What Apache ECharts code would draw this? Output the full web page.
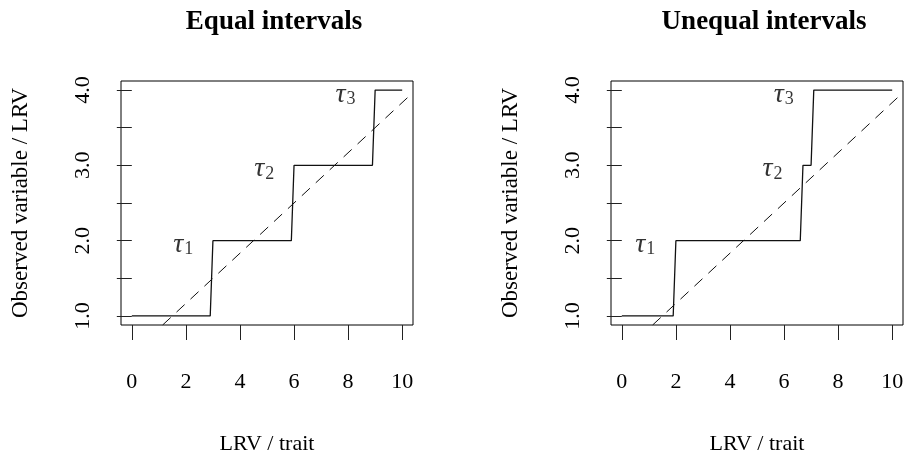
<!DOCTYPE html>
<html>
<head>
<meta charset="utf-8">
<script src="https://cdn.jsdelivr.net/npm/echarts@6/dist/echarts.min.js"></script>
<style>
  html, body { margin: 0; padding: 0; background: #fff; }
  #chart { width: 907px; height: 458px; }
</style>
</head>
<body>
<div id="chart"></div>
<script>
// Panel titles and axis names
const panelTitles = ['Equal intervals', 'Unequal intervals'];
const xName = 'LRV / trait';
const yName = 'Observed variable / LRV';

// Tick positions
const xTicks = [0, 2, 4, 6, 8, 10];
const yTicks = [1, 1.5, 2, 2.5, 3, 3.5, 4];
const yTickLabels = [1, 2, 3, 4];

// Observed variable as a step function of the latent trait
const stepEqual = [[0, 1], [2.9, 1], [3.0, 2], [5.9, 2], [6.0, 3], [8.9, 3], [9.0, 4], [10, 4]];
const stepUnequal = [[0, 1], [1.9, 1], [2.0, 2], [6.6, 2], [6.7, 3], [7.0, 3], [7.1, 4], [10, 4]];

// Reference diagonal (ends clipped at the plot edges)
const diagonal = [[1.14, 0.88], [10.4, 3.967]];

// Threshold labels: [x, y, index]
const tauEqual = [[1.9, 1.95, 1], [4.9, 2.95, 2], [7.9, 3.94, 3]];
const tauUnequal = [[0.87, 1.95, 1], [5.57, 2.95, 2], [5.99, 3.94, 3]];

const FONT = 'Liberation Serif';
const grids = [
  { left: 121, top: 81, width: 292, height: 244 },
  { left: 611, top: 81, width: 292, height: 244 }
];

function xAxis(i) {
  return {
    gridIndex: i, type: 'value', min: -0.4, max: 10.4,
    name: xName, nameLocation: 'middle', nameGap: 108,
    nameTextStyle: { fontFamily: FONT, fontSize: 22, color: '#000' },
    axisLine: { show: false },
    axisTick: { show: true, length: 15, inside: false, customValues: xTicks, lineStyle: { color: '#222', width: 1 } },
    axisLabel: { customValues: xTicks, margin: 46, fontFamily: FONT, fontSize: 22, color: '#000' },
    splitLine: { show: false }
  };
}
function yAxis(i) {
  return {
    gridIndex: i, type: 'value', min: 0.88, max: 4.12,
    name: yName, nameLocation: 'middle', nameGap: 89,
    nameTextStyle: { fontFamily: FONT, fontSize: 23, color: '#000' },
    axisLine: { show: false },
    axisTick: { show: true, length: 15, inside: false, customValues: yTicks, lineStyle: { color: '#222', width: 1 } },
    axisLabel: {
      customValues: yTickLabels, rotate: 90, margin: 27,
      fontFamily: FONT, fontSize: 22, color: '#000',
      formatter: v => v.toFixed(1)
    },
    splitLine: { show: false }
  };
}
function stepSeries(i, data) {
  return {
    type: 'line', xAxisIndex: i, yAxisIndex: i, data: data,
    symbol: 'none', lineStyle: { color: '#111', width: 1.3 }, silent: true, z: 3
  };
}
function diagSeries(i) {
  return {
    type: 'line', xAxisIndex: i, yAxisIndex: i, data: diagonal,
    symbol: 'none', lineStyle: { color: '#111', width: 1, type: [11, 8] }, silent: true, z: 2
  };
}
function tauSeries(i, data) {
  return {
    type: 'scatter', xAxisIndex: i, yAxisIndex: i, data: data,
    symbolSize: 0, silent: true,
    label: {
      show: true, position: 'inside',
      formatter: p => '{t|τ}{s|' + p.data[2] + '}',
      rich: {
        t: { fontFamily: FONT, fontStyle: 'italic', fontSize: 28, color: '#000', lineHeight: 28, verticalAlign: 'middle' },
        s: { fontFamily: FONT, fontSize: 18, color: '#000', lineHeight: 28, verticalAlign: 'bottom', padding: [13, 0, 0, 1] }
      }
    }
  };
}

const chart = echarts.init(document.getElementById('chart'), null, { renderer: 'canvas' });
chart.setOption({
  animation: false,
  backgroundColor: '#fff',
  title: panelTitles.map((t, i) => ({
    text: t, left: grids[i].left + grids[i].width / 2 + 2, top: 4, textAlign: 'center',
    textStyle: { fontFamily: FONT, fontWeight: 'bold', fontSize: 27, color: '#000' }
  })),
  grid: grids.map(g => Object.assign({
    show: true, borderColor: '#000', borderWidth: 1, backgroundColor: 'transparent',
    containLabel: false, outerBoundsMode: 'none'
  }, g)),
  xAxis: [xAxis(0), xAxis(1)],
  yAxis: [yAxis(0), yAxis(1)],
  series: [
    diagSeries(0), stepSeries(0, stepEqual), tauSeries(0, tauEqual),
    diagSeries(1), stepSeries(1, stepUnequal), tauSeries(1, tauUnequal)
  ]
});
</script>
</body>
</html>
